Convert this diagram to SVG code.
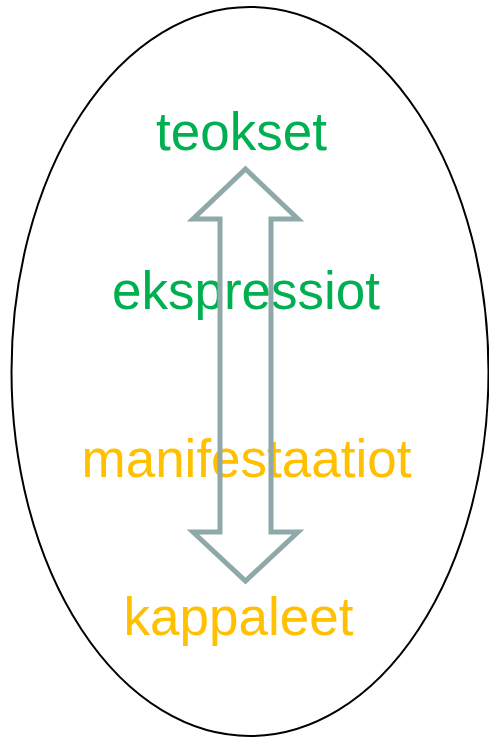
<svg xmlns="http://www.w3.org/2000/svg" width="489" height="739" viewBox="0 0 489 739">
<style>
.lbl{font-family:"Liberation Sans",Arial,sans-serif;font-size:53px}
.g{fill:#00B050}
.y{fill:#FFC000}
</style>
<rect width="489" height="739" fill="#fff"/>
<g id="ellipse"><ellipse cx="250" cy="371.5" rx="238.5" ry="364.5" fill="none" stroke="#000" stroke-width="2"/></g>
<g id="teokset"><text class="lbl g" x="241.5" y="150" text-anchor="middle">teokset</text></g>
<g id="ekspressiot"><text class="lbl g" x="246" y="309" text-anchor="middle">ekspressiot</text></g>
<g id="manifestaatiot"><text class="lbl y" x="246.5" y="477" text-anchor="middle">manifestaatiot</text></g>
<g id="kappaleet"><text class="lbl y" x="238.5" y="635" text-anchor="middle">kappaleet</text></g>
<g id="connectors"><path d="M245.5 169 L298 219 L271 219 L271 532 L298 532 L245.5 581 L193 532 L220 532 L220 219 L193 219 Z" fill="none" stroke="#8FA8AA" stroke-width="5" stroke-linejoin="miter"/></g>
</svg>
